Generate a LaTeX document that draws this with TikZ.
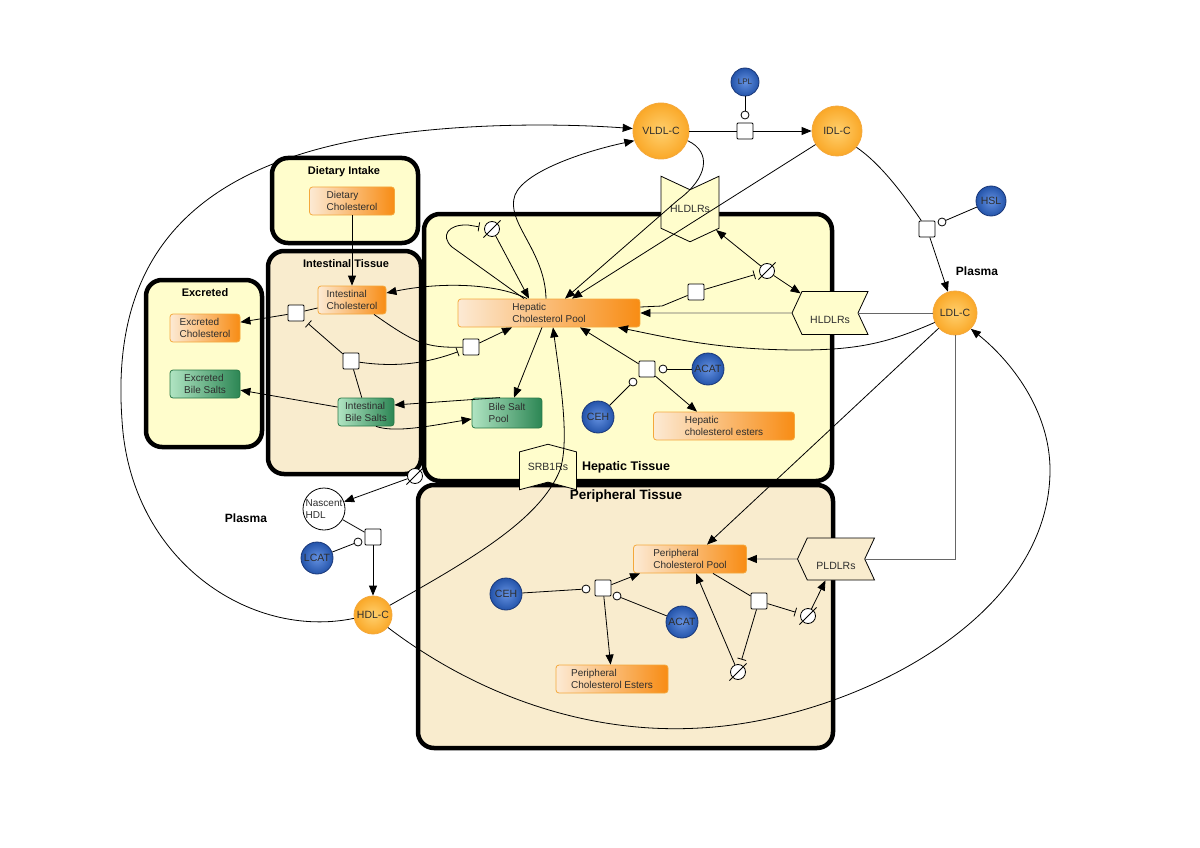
\documentclass[tikz,border=0pt]{standalone}
\usepackage{fontspec}
\setmainfont{Liberation Sans}
\usetikzlibrary{arrows.meta,shapes.symbols}
\definecolor{cellyellow}{RGB}{255,253,204}
\definecolor{cellbeige}{RGB}{249,236,206}
\definecolor{orlight}{RGB}{252,234,212}
\definecolor{ordark}{RGB}{248,140,20}
\definecolor{orline}{RGB}{244,168,60}
\definecolor{grlight}{RGB}{176,228,194}
\definecolor{grdark}{RGB}{44,134,84}
\definecolor{grline}{RGB}{40,120,70}
\definecolor{ballor}{RGB}{250,168,40}
\definecolor{ballorin}{RGB}{255,208,110}
\definecolor{ballbl}{RGB}{36,84,170}
\definecolor{ballblin}{RGB}{100,145,225}
\definecolor{blueline}{RGB}{25,55,120}
\definecolor{txt}{RGB}{45,45,45}

\begin{document}
\begin{tikzpicture}[x=1pt, y=-1pt, line width=0.8pt,
        every node/.style={text=txt},
        comp/.style={draw=black, line width=4.5pt, rounded corners=16pt},
        boxtitle/.style={font=\fontsize{11}{13}\selectfont\bfseries, text=black},
        spec/.style={draw=orline, rounded corners=3pt, left color=orlight, right color=ordark,
            align=left, font=\fontsize{10}{12}\selectfont, minimum height=28pt, inner sep=1pt},
        bile/.style={spec, draw=grline, left color=grlight, right color=grdark},
        lipo/.style={circle, draw=orline, inner color=ballorin, outer color=ballor,
            font=\fontsize{10.5}{12}\selectfont, inner sep=0pt},
        enz/.style={circle, draw=blueline, inner color=ballblin, outer color=ballbl,
            font=\fontsize{10.5}{12}\selectfont, inner sep=0pt, minimum size=32pt},
        proc/.style={draw, fill=white, minimum size=16pt, inner sep=0pt, rounded corners=1pt},
        mod/.style={circle, draw, fill=white, minimum size=8pt, inner sep=0pt},
        sink/.style={circle, draw, fill=white, minimum size=15pt, inner sep=0pt},
        recep/.style={signal, draw, fill=cellyellow, signal pointer angle=130, inner sep=0pt,
            font=\fontsize{10.5}{12}\selectfont},
        ldlline/.style={draw=black!60},
        arr/.style={-{Triangle[length=10pt,width=8pt,color=black]}},
        inh/.style={-{Bar[width=9pt]}, shorten >=5pt}]
    \useasboundingbox[fill=white] (0,0) rectangle (1200,848);

    \draw[comp, fill=cellyellow] (272,158) rectangle (418,243);
    \draw[comp, fill=cellbeige] (268,251) rectangle (421,474);
    \draw[comp, fill=cellyellow] (146,280) rectangle (262,447);
    \draw[comp, fill=cellyellow] (424,214) rectangle (832,481);
    \draw[comp, fill=cellbeige] (418,485) rectangle (833,748);

    \node[boxtitle] (tdi) at (344,172) {Dietary Intake};
    \node[boxtitle] (tit) at (346,264) {Intestinal Tissue};
    \node[boxtitle] (tex) at (205,293) {Excreted};
    \node[boxtitle, font=\fontsize{12.5}{14}\selectfont\bfseries] (tht) at (626,467) {Hepatic Tissue};
    \node[boxtitle, font=\fontsize{13.5}{15}\selectfont\bfseries] (tpt) at (626,496) {Peripheral Tissue};
    \node[boxtitle, font=\fontsize{12}{14}\selectfont\bfseries] (tpa) at (977,271) {Plasma};
    \node[boxtitle, font=\fontsize{12}{14}\selectfont\bfseries] (tpb) at (246,518) {Plasma};

    \node[spec, minimum width=85pt] (DC) at (352,201) {Dietary\\Cholesterol};
    \node[spec, minimum width=68pt] (IC) at (352,300) {Intestinal\\Cholesterol};
    \node[spec, minimum width=70pt] (EC) at (205,328) {Excreted\\Cholesterol};
    \node[bile, minimum width=70pt] (EBS) at (205,384) {Excreted\\Bile Salts};
    \node[bile, minimum width=56pt] (IBS) at (366,412) {Intestinal\\Bile Salts};
    \node[bile, minimum width=70pt, minimum height=30pt] (BSP) at (507,413) {Bile Salt\\Pool};
    \node[spec, minimum width=182pt] (HCP) at (549,313) {Hepatic\\Cholesterol Pool};
    \node[spec, minimum width=141pt] (HCE) at (724,426) {Hepatic\\cholesterol esters};
    \node[spec, minimum width=113pt] (PCP) at (690,559) {Peripheral\\Cholesterol Pool};
    \node[spec, minimum width=112pt] (PCE) at (612,679) {Peripheral\\Cholesterol Esters};

    \node[recep, signal to=south, signal from=north, minimum width=58pt, minimum height=57pt] (HR1) at (690,209) {HLDLRs};
    \node[recep, signal to=west, signal from=east, minimum width=76pt, minimum height=43pt,
        text height=21pt, text depth=0.5pt] (HR2) at (830,313) {HLDLRs};
    \node[recep, signal to=west, signal from=east, fill=cellbeige, minimum width=77pt, minimum height=42pt,
        text height=21pt, text depth=0.5pt] (PR) at (836,559) {PLDLRs};
    \node[recep, signal to=north, signal from=south, signal pointer angle=150, minimum width=57pt,
        minimum height=41pt] (SR) at (548,467) {SRB1Rs};

    \node[lipo, minimum size=56pt] (VLDL) at (661,131) {VLDL-C};
    \node[lipo, minimum size=50pt] (IDL) at (837,131) {IDL-C};
    \node[lipo, minimum size=44pt] (LDL) at (955,313) {LDL-C};
    \node[lipo, minimum size=38pt] (HDL) at (373,615) {HDL-C};
    \node[circle, draw, fill=white, minimum size=42pt, inner sep=0pt, align=left,
        font=\fontsize{10}{12}\selectfont] (NHDL) at (324,509) {Nascent\\HDL};

    \node[enz, minimum size=28pt, font=\fontsize{8}{10}\selectfont] (LPL) at (745,82) {LPL};
    \node[enz, minimum size=30pt] (HSL) at (991,201) {HSL};
    \node[enz] (ACATh) at (708,369) {ACAT};
    \node[enz] (CEHh) at (598,417) {CEH};
    \node[enz] (LCAT) at (317,558) {LCAT};
    \node[enz] (CEHp) at (506,594) {CEH};
    \node[enz] (ACATp) at (682,622) {ACAT};

    \node[proc] (p1) at (745,131) {};
    \node[proc] (p2) at (927,229) {};
    \node[proc] (p3) at (296,313) {};
    \node[proc] (p4) at (351,361) {};
    \node[proc] (p5) at (471,347) {};
    \node[proc] (p6) at (696,292) {};
    \node[proc] (p7) at (647,369) {};
    \node[proc] (p8) at (373,537) {};
    \node[proc] (p9) at (603,588) {};
    \node[proc] (p10) at (759,601) {};

    \node[mod] (m1) at (745,115) {};
    \node[mod] (m2) at (942,222) {};
    \node[mod] (m3) at (663,369) {};
    \node[mod] (m4) at (633,382) {};
    \node[mod] (m5) at (358,542) {};
    \node[mod] (m6) at (586,589) {};
    \node[mod] (m7) at (617,596) {};

    \node[sink] (e1) at (492,229) {};
    \node[sink] (e2) at (767,271) {};
    \node[sink] (e3) at (415,476) {};
    \node[sink] (e4) at (808,616) {};
    \node[sink] (e5) at (738,672) {};
    \foreach \nul in {e1,e2,e3,e4,e5}
        \draw ([shift={(-3,3)}]\nul.south west) -- ([shift={(3,-3)}]\nul.north east);

    \draw[arr] (DC) -- (IC);
    \draw (IC) -- (p3);
    \draw[arr] (p3) -- (EC);
    \draw[arr] (IBS) -- (EBS);
    \draw (IBS) -- (p4);
    \draw[inh] (p4) -- (p3);
    \draw[inh] (p4) .. controls (400,368) and (430,362) .. (p5);
    \draw ([shift={(22,0)}]IC.south) .. controls (415,343) and (425,348) .. (p5);
    \draw[arr] (p5) -- ([shift={(-37,0)}]HCP.south);
    \draw[arr] ([shift={(-22,0)}]HCP.north) .. controls (495,283) and (440,282) .. ([shift={(0,-7)}]IC.east);
    \draw[arr] ([shift={(-7,0)}]BSP.north) -- ([shift={(0,-7)}]IBS.east);
    \draw[arr] ([shift={(10,0)}]IBS.south) .. controls (395,433) and (430,426) .. ([shift={(0,6)}]BSP.west);
    \draw[arr] ([shift={(-7,0)}]HCP.south) -- ([shift={(7,0)}]BSP.north);
    \draw[arr] (e1) -- ([shift={(-20,0)}]HCP.north);
    \draw[inh] ([shift={(-25,0)}]HCP.north) -- (452,247) .. controls (440,236) and (448,224) .. (468,225) -- (e1);
    \draw[arr] ([shift={(-3,0)}]HCP.north) .. controls (545,250) and (505,222) .. (515,195)
        .. controls (525,170) and (590,150) .. (VLDL.200);
    \draw[arr] (HDL.190) .. controls (250,640) and (130,560) .. (122,420)
        .. controls (112,280) and (170,185) .. (330,146) .. controls (420,124) and (540,122) .. (VLDL.175);
    \draw (VLDL) -- (p1);
    \draw[arr] (p1) -- (IDL);
    \draw (LPL) -- (m1);
    \draw[arr] (VLDL.340) .. controls (712,152) and (708,178) .. (678,200) -- ([shift={(16,0)}]HCP.north);
    \draw[arr] (IDL) -- ([shift={(23,0)}]HCP.north);
    \draw (IDL.320) .. controls (875,160) and (895,182) .. (p2);
    \draw[arr] (p2) -- (LDL);
    \draw (HSL) -- (m2);
    \draw[ldlline] (LDL) -- (HR2);
    \draw[ldlline, arr] (HR2) -- (HCP);
    \draw[arr] (LDL.205) .. controls (890,342) and (860,350) .. (800,350)
        .. controls (720,350) and (670,338) .. ([shift={(69,0)}]HCP.south);
    \draw ([shift={(0,-6)}]HCP.east) -- (662,306) -- (p6);
    \draw[inh] (p6) -- (e2);
    \draw[arr] (e2) -- (HR1);
    \draw[arr] (e2) -- (HR2);
    \draw[arr] (p7) -- ([shift={(31,0)}]HCP.south);
    \draw[arr] (p7) -- ([shift={(-27,0)}]HCE.north);
    \draw (ACATh) -- (m3);
    \draw (CEHh) -- (m4);
    \draw[arr] (e3) -- (NHDL);
    \draw (NHDL) -- (p8);
    \draw[arr] (p8) -- (HDL);
    \draw (LCAT) -- (m5);
    \draw[arr] (HDL.30) .. controls (470,560) and (540,520) .. (560,470)
        .. controls (570,440) and (560,380) .. ([shift={(4,0)}]HCP.south);
    \draw[arr] (HDL.320) .. controls (470,690) and (580,735) .. (700,728)
        .. controls (850,720) and (1050,620) .. (1050,470) .. controls (1050,410) and (1010,360) .. (LDL.315);
    \draw[arr] (LDL) -- ([shift={(17,0)}]PCP.north);
    \draw[ldlline] (LDL) |- (PR);
    \draw[ldlline, arr] (PR) -- (PCP);
    \draw[arr] (p9) -- ([shift={(-50,0)}]PCP.south);
    \draw[arr] (p9) -- (PCE);
    \draw (CEHp) -- (m6);
    \draw (ACATp) -- (m7);
    \draw ([shift={(23,0)}]PCP.south) -- (p10);
    \draw[inh] (p10) -- (e4);
    \draw[inh] (p10) -- (e5);
    \draw[arr] (e5) -- ([shift={(6,0)}]PCP.south);
    \draw[arr] (e4) -- (PR);
\end{tikzpicture}
\end{document}
